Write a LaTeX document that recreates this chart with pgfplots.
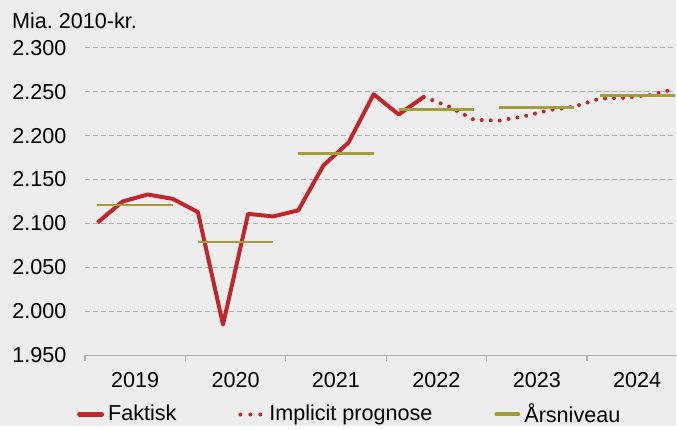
\documentclass[border=0pt]{standalone}
\usepackage{fontspec}
\setmainfont{Liberation Sans}
\usepackage{pgfplots}
\pgfplotsset{compat=1.18}
\definecolor{bg}{HTML}{EDEDED}
\definecolor{rd}{HTML}{C0272D}
\definecolor{ol}{HTML}{A39E3C}
\definecolor{gr}{HTML}{B0B0B0}
\begin{document}
\fontsize{21.6bp}{26bp}\selectfont
\begin{tikzpicture}
\fill[bg] (-85bp,-70.3bp) rectangle (592bp,355.7bp);
\begin{axis}[
  width=592bp,height=308bp,scale only axis,
  at={(0,0)},anchor=south west,
  xmin=-0.5,xmax=23.06,ymin=1950,ymax=2300,
  axis x line*=bottom,axis y line*=left,
  y axis line style={draw=none},
  x axis line style={gr,line width=1.2bp},
  ytick={1950,2000,...,2300},
  ytick style={draw=none},
  scaled y ticks=false,
  yticklabel style={font=\fontsize{21.6bp}{26bp}\selectfont,xshift=-7bp,/pgf/number format/.cd,1000 sep={.},assume math mode=true},
  xtick={1.5,5.5,...,21.5},
  xticklabels={2019,2020,2021,2022,2023,2024},
  xticklabel style={font=\fontsize{21.6bp}{26bp}\selectfont,yshift=-5bp},
  major x tick style={draw=none},
  minor xtick={-0.5,3.5,...,19.5},
  minor x tick style={gr,line width=1.2bp},
  minor tick length=6bp,
  tick align=outside,
  ymajorgrids,
  grid style={gr,line width=1bp,dash pattern=on 5bp off 3bp},
  legend columns=3,
  legend style={draw=none,fill=none,at={(-0.0186,-0.192)},anchor=west,
    font=\fontsize{21.6bp}{26bp}\selectfont,
    /tikz/every even column/.append style={column sep=60bp},
    /tikz/every odd column/.append style={column sep=2bp}},
  legend cell align=left,
]
\addplot[rd,line width=4bp,line join=round,
  legend image code/.code={\draw[rd,line width=5bp,line cap=round] (0bp,0bp) -- (22bp,0bp);}]
 coordinates {(0,2101) (1,2125) (2,2133) (3,2128) (4,2113) (5,1985) (6,2111) (7,2108)
 (8,2115) (9,2166) (10,2192) (11,2247) (12,2224) (13,2244)};
\addlegendentry{Faktisk}
\addplot[rd,line width=4bp,line cap=round,dash pattern=on 0bp off 9bp,
  legend image code/.code={\draw[rd,line width=4bp,line cap=round,dash pattern=on 0bp off 10bp] (1bp,0bp) -- (24bp,0bp);}]
 coordinates {(13,2244) (14,2233) (15,2218) (16,2217) (17,2222) (18,2229) (19,2233)
 (20,2242) (21,2243) (22,2246) (23,2253)};
\addlegendentry{Implicit prognose}
\addplot[ol,line width=2.8bp,
  legend image code/.code={\draw[ol,line width=4bp,line cap=round] (0bp,0bp) -- (22bp,0bp);}]
 coordinates {(0,2121) (3,2121)};
\addlegendentry{Årsniveau}
\addplot[ol,line width=2.8bp,forget plot] coordinates {(4,2079) (7,2079)};
\addplot[ol,line width=2.8bp,forget plot] coordinates {(8,2180) (11,2180)};
\addplot[ol,line width=2.8bp,forget plot] coordinates {(12,2230) (15,2230)};
\addplot[ol,line width=2.8bp,forget plot] coordinates {(16,2232) (19,2232)};
\addplot[ol,line width=2.8bp,forget plot] coordinates {(20,2246) (23,2246)};
\end{axis}
\node[anchor=west,inner sep=0pt] at (-73bp,334.7bp) {Mia.\ 2010-kr.};
\end{tikzpicture}
\end{document}
